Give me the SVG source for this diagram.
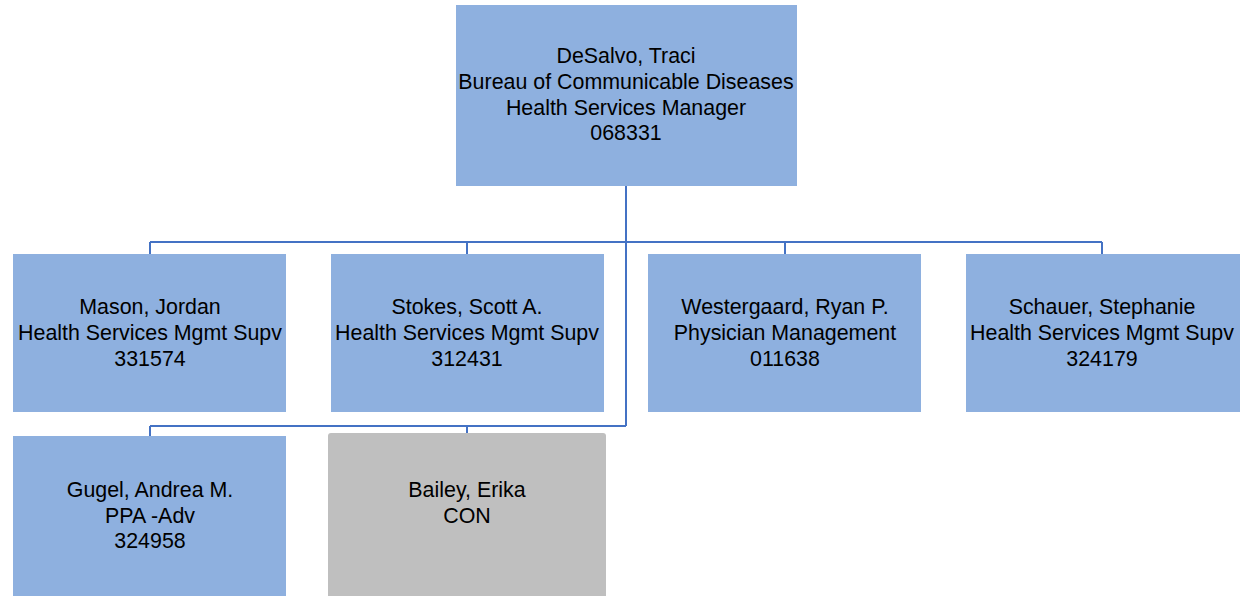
<svg xmlns="http://www.w3.org/2000/svg" width="1240" height="596" viewBox="0 0 1240 596">
<style>
.box{fill:#8EB0DF}
.con{fill:#BFBFBF}
.t{font-family:"Liberation Sans",Arial,sans-serif;font-size:21.4px;fill:#000;text-anchor:middle}
.ln{stroke:#4472C4;stroke-width:2;fill:none}
</style>
<rect width="1240" height="596" fill="#fff"/>
<g id="connectors">
<path class="ln" d="M626 186V426M150 242H1102M150 242V254M467 242V254M785 242V254M1102 242V254M150 426H626M150 426V436M467 426V433"/>
</g>
<g id="desalvo">
<rect class="box" x="456" y="5" width="341" height="181"/>
<text class="t" x="626" y="63">DeSalvo, Traci</text>
<text class="t" x="626" y="89">Bureau of Communicable Diseases</text>
<text class="t" x="626" y="115">Health Services Manager</text>
<text class="t" x="626" y="140">068331</text>
</g>
<g id="mason">
<rect class="box" x="13" y="254" width="273" height="158"/>
<text class="t" x="150" y="314">Mason, Jordan</text>
<text class="t" x="150" y="340">Health Services Mgmt Supv</text>
<text class="t" x="150" y="366">331574</text>
</g>
<g id="stokes">
<rect class="box" x="331" y="254" width="273" height="158"/>
<text class="t" x="467" y="314">Stokes, Scott A.</text>
<text class="t" x="467" y="340">Health Services Mgmt Supv</text>
<text class="t" x="467" y="366">312431</text>
</g>
<g id="westergaard">
<rect class="box" x="648" y="254" width="273" height="158"/>
<text class="t" x="785" y="314">Westergaard, Ryan P.</text>
<text class="t" x="785" y="340">Physician Management</text>
<text class="t" x="785" y="366">011638</text>
</g>
<g id="schauer">
<rect class="box" x="966" y="254" width="274" height="158"/>
<text class="t" x="1102" y="314">Schauer, Stephanie</text>
<text class="t" x="1102" y="340">Health Services Mgmt Supv</text>
<text class="t" x="1102" y="366">324179</text>
</g>
<g id="gugel">
<rect class="box" x="13" y="436" width="273" height="160"/>
<text class="t" x="150" y="497">Gugel, Andrea M.</text>
<text class="t" x="150" y="523">PPA -Adv</text>
<text class="t" x="150" y="548">324958</text>
</g>
<g id="bailey">
<rect class="con" x="328" y="433" width="278" height="170" rx="3"/>
<text class="t" x="467" y="497">Bailey, Erika</text>
<text class="t" x="467" y="523">CON</text>
</g>
</svg>
